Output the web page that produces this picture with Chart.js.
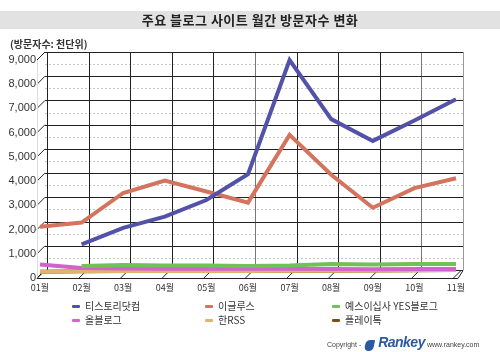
<!DOCTYPE html>
<html><head><meta charset="utf-8">
<script src="https://cdn.jsdelivr.net/npm/chart.js@4"></script>
<style>
html,body{margin:0;padding:0;background:#fff;}
#wrap{position:relative;width:500px;height:352px;overflow:hidden;font-family:"Liberation Sans","Noto Sans CJK KR",sans-serif;}
#c{position:absolute;left:0;top:0;}
#title{position:absolute;left:0;top:11px;width:500px;height:18px;background:#e2e2e2;text-align:center;font:bold 13px "Noto Sans CJK KR",sans-serif;line-height:18px;color:#222;letter-spacing:0.5px;}
#unit{position:absolute;left:10px;top:36px;font:bold 10px "Noto Sans CJK KR",sans-serif;color:#333;}
.lg{position:absolute;font:10px "Noto Sans CJK KR",sans-serif;color:#333;line-height:12px;white-space:nowrap;}
.lg i{display:inline-block;width:8px;height:3px;border-radius:1px;margin-right:5px;vertical-align:middle;position:relative;top:-1px;}
#copy{position:absolute;left:327px;top:334px;font:7px "Liberation Sans",sans-serif;color:#444;white-space:nowrap;}
#copy b{font:italic bold 14px "Liberation Sans",sans-serif;color:#2a5aa0;letter-spacing:-0.5px;margin:0 2px 0 4px;}
#copy .d{display:inline-block;width:9px;height:11px;background:#2a5aa0;border-radius:5px 1px 5px 5px;vertical-align:middle;transform:skewX(-12deg);}
</style></head>
<body><div id="wrap">
<canvas id="c" width="500" height="352"></canvas>
<div id="title">주요 블로그 사이트 월간 방문자수 변화</div>
<div id="unit">(방문자수: 천단위)</div>
<div id="legend"></div>
<div id="copy">Copyright - &nbsp;<span class="d"></span><b>Rankey</b>www.rankey.com</div>
</div>
<script>
const months = ["01월","02월","03월","04월","05월","06월","07월","08월","09월","10월","11월"];
const seriesNames = ["티스토리닷컴","이글루스","예스이십사  YES블로그","올블로그","한RSS","플레이톡"];
const tistory = [null,1390,2070,2530,3220,4290,9000,6560,5660,6500,7380];
const egloos  = [2120,2290,3510,4020,3570,3110,5910,4260,2900,3710,4120];
const yes24   = [null,500,540,520,520,500,520,580,560,575,580];
const allblog = [560,410,390,380,380,380,380,375,360,370,370];
const hanrss  = [260,280,290,290,290,290,300,300,310,320,330];
const playtalk= [260,280,290,290,290,290,300,300,310,320,330];
const yTicks  = [0,1000,2000,3000,4000,5000,6000,7000,8000,9000];
const colors = ["#5252a8","#d4735e","#72c058","#d263cc","#deb56e","#7a4d14"];

const seriesData = [tistory,egloos,yes24,allblog,hanrss,playtalk];

const lgPos = [[72,300],[205,300],[332,300],[72,314],[205,314],[332,314]];
const legendEl = document.getElementById('legend');
seriesNames.forEach((n,i)=>{
  const d=document.createElement('div');d.className='lg';
  d.style.left=lgPos[i][0]+'px';d.style.top=lgPos[i][1]+'px';
  d.innerHTML='<i style="background:'+colors[i]+'"></i>'+n;
  legendEl.appendChild(d);
});

const DX=7, DY=-8;
const box3d = {
  id:'box3d',
  beforeDatasetsDraw(chart){
    const ctx=chart.ctx, x=chart.scales.x, y=chart.scales.y;
    const xl=x.getPixelForValue(0), xr=x.getPixelForValue(months.length-1);
    const bx0=xl+DX-2, bx1=xr+DX;
    ctx.save();
    ctx.strokeStyle='#c8c8c8';ctx.lineWidth=1;ctx.setLineDash([2,2]);
    for(let k=0;k<yTicks.length-1;k++){
      const v=(yTicks[k]+yTicks[k+1])/2;
      const py=Math.round(y.getPixelForValue(v)+DY)+0.5;
      ctx.beginPath();ctx.moveTo(bx0,py);ctx.lineTo(bx1,py);ctx.stroke();
    }
    ctx.setLineDash([]);
    const top=Math.round(y.getPixelForValue(yTicks[yTicks.length-1])+DY);
    const bot=Math.round(y.getPixelForValue(0)+DY);
    months.forEach((m,i)=>{
      const px=Math.round(x.getPixelForValue(i)+DX)+0.5;
      ctx.strokeStyle=(i===months.length-1)?'#999':((i===5||i===9)?'#777':'#222');
      ctx.beginPath();ctx.moveTo(px,top);ctx.lineTo(px,bot);ctx.stroke();
    });
    ctx.strokeStyle='#222';
    yTicks.forEach(v=>{
      const py=Math.round(y.getPixelForValue(v)+DY)+0.5;
      ctx.beginPath();ctx.moveTo(bx0,py);ctx.lineTo(bx1,py);ctx.stroke();
    });
    yTicks.forEach(v=>{
      const py=y.getPixelForValue(v);
      ctx.beginPath();ctx.moveTo(xl-3,py);ctx.lineTo(bx0,py+DY);ctx.stroke();
    });
    ctx.strokeStyle='#ddd';
    ctx.beginPath();ctx.moveTo(xl-3+0.5,y.getPixelForValue(yTicks[yTicks.length-1]));ctx.lineTo(xl-3+0.5,y.getPixelForValue(0));ctx.stroke();
    const fy=Math.round(y.getPixelForValue(0))+0.5;
    ctx.strokeStyle='#222';ctx.lineWidth=1;
    ctx.beginPath();ctx.moveTo(xl-3,fy);ctx.lineTo(xr+2,fy);ctx.stroke();
    months.forEach((m,i)=>{
      const px=x.getPixelForValue(i);
      ctx.beginPath();ctx.moveTo(px-3,fy);ctx.lineTo(px+DX-2,fy+DY);ctx.stroke();
    });
    ctx.beginPath();ctx.moveTo(xr+2,fy);ctx.lineTo(bx1,fy+DY);ctx.stroke();
    ctx.restore();
  }
};

const datasets = seriesNames.map((n,i)=>({
  label:n, data:seriesData[i], borderColor:colors[i], backgroundColor:colors[i],
  borderWidth:4, pointRadius:0, tension:0, clip:false, spanGaps:false
}));

new Chart(document.getElementById('c'),{
  type:'line',
  data:{labels:months,datasets},
  options:{
    responsive:false,animation:false,
    layout:{padding:{left:2,right:44,top:60,bottom:0}},
    plugins:{legend:{display:false},tooltip:{enabled:false}},
    scales:{
      x:{offset:false,grid:{display:false,drawTicks:false,tickLength:0},border:{display:false},
         ticks:{font:{size:9,family:"'Noto Sans CJK KR',sans-serif"},color:'#333',padding:4,maxRotation:0,autoSkip:false},
         afterFit(s){s.height=74;}},
      y:{min:0,max:9000,grid:{display:false,drawTicks:false,tickLength:0},border:{display:false},
         afterBuildTicks(s){s.ticks=yTicks.map(v=>({value:v}));},
         ticks:{font:{size:11,family:"'Liberation Sans',sans-serif"},color:'#333',padding:4,
           callback:v=>v.toLocaleString('en-US')},
         afterFit(s){s.width=38;}}
    }
  },
  plugins:[box3d]
});
</script>
</body></html>
